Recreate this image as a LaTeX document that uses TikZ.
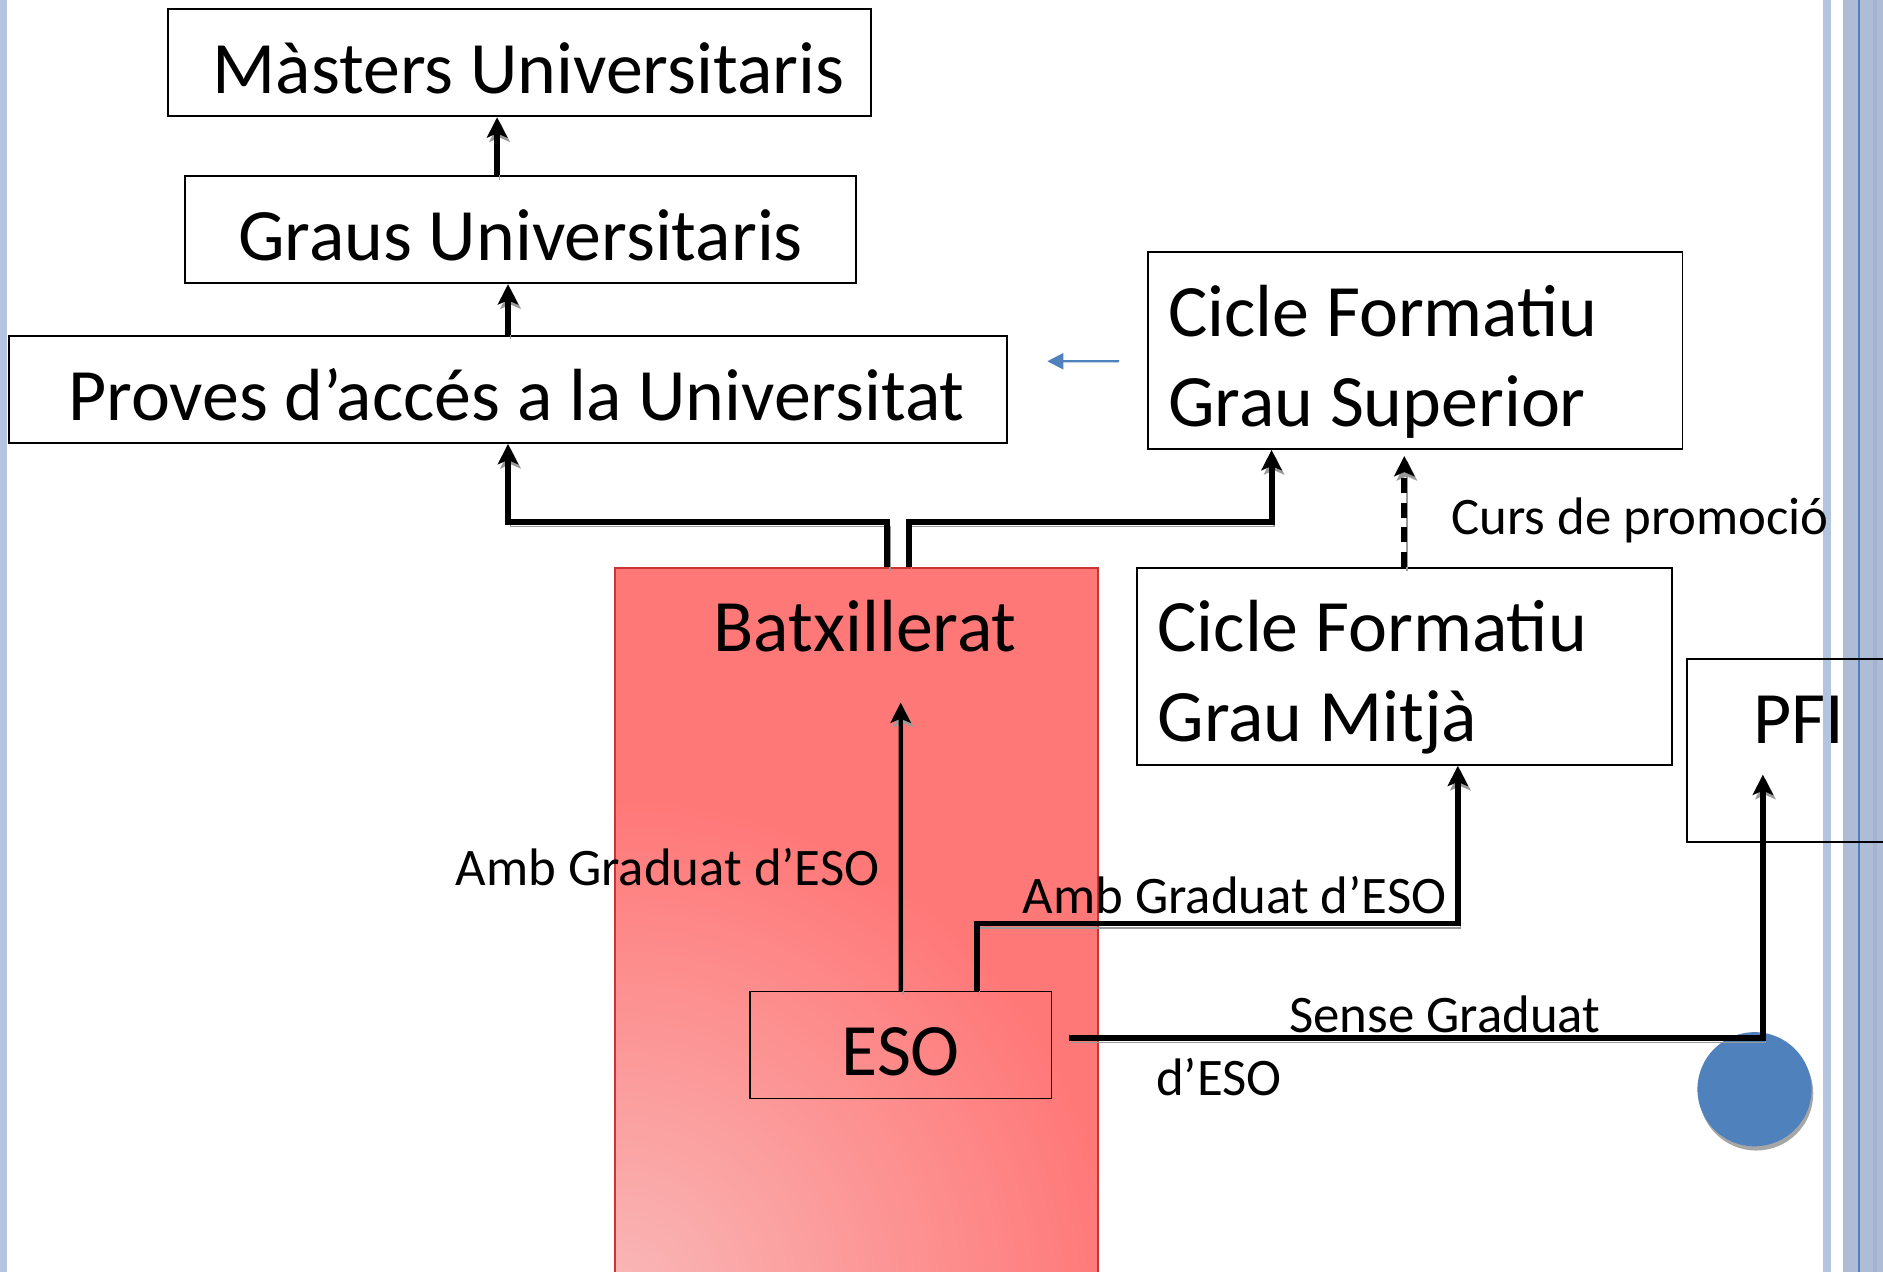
\documentclass[tikz,border=0pt]{standalone}
\usepackage{fontspec}
\setmainfont{Carlito}
\usetikzlibrary{arrows.meta,calc}
\definecolor{stripe}{HTML}{B4C3DE}
\definecolor{stripedark}{HTML}{AFBCD6}
\definecolor{stripedeep}{HTML}{A3B3D0}
\definecolor{accentblue}{HTML}{4F81BD}
\definecolor{batxred}{HTML}{FF7878}
\definecolor{batxpink}{HTML}{F9B8B8}
\definecolor{batxedge}{HTML}{CC3333}
\pgfdeclareradialshading{batxglow}{\pgfpoint{0bp}{0bp}}{color(0bp)=(batxpink); color(13bp)=(batxred); color(50bp)=(batxred)}
\newcommand{\bigtxt}{\fontsize{17.5}{21.3}\selectfont}
\newcommand{\smalltxt}{\fontsize{12.5}{15}\selectfont}
\tikzset{
  box/.style={draw, line width=0.45pt, anchor=north west, inner ysep=0pt, font=\bigtxt, text height=0.7cm},
  centrebox/.style={box, inner xsep=0pt, align=flush center},
  leftbox/.style={box, inner xsep=0.17cm, align=flush left},
  link/.style={line width=1.4pt, -{Stealth[length=4.8pt,width=4.8pt,inset=1pt]},
    preaction={draw=black!40, transform canvas={shift={(0.6pt,-1pt)}}}},
  lbl/.style={font=\smalltxt, inner sep=0pt},
}

\begin{document}
\begin{tikzpicture}[x=0.01cm, y=-0.01cm]
			%%%%% START %%%%%
			\useasboundingbox (0,0) rectangle (1568,1059);
			\clip (0,0) rectangle (1568,1059);
			
			\fill[stripe] (0,0) rectangle (6,1059);
			\fill[stripe] (1518,0) rectangle (1525,1059);
			\fill[stripedark] (1535,0) rectangle (1568,1059);
			\fill[stripedeep] (1560,0) rectangle (1563,1059);
			\fill[accentblue] (1547,0) rectangle (1549,1059);
			
			\node[centrebox, draw=batxedge, fill=batxred, text width=4.02cm, text depth=5.38cm,
			  path picture={\shade[shading=batxglow]
			    ([shift={(-8cm,-8cm)}]path picture bounding box.south west) rectangle ([shift={(8cm,8cm)}]path picture bounding box.south west);}] (batx) at (511,472) {\hspace*{0.15cm}Batxillerat};
			\node[centrebox, line width=0.3pt, text width=2.51cm, text depth=0.19cm] (eso) at (624,825) {ESO};
			
			\node[centrebox, text width=5.85cm, text depth=0.19cm] (masters) at (139,7) {\hspace*{0.15cm}Màsters Universitaris};
			\node[centrebox, text width=5.59cm, text depth=0.19cm] (graus) at (153,146) {Graus Universitaris};
			\node[centrebox, text width=8.30cm, text depth=0.19cm] (proves) at (7,279) {\hspace*{0.14cm}Proves d’accés a la Universitat};
			\node[leftbox, text width=4.11cm, text depth=0.94cm] (cfgs) at (955,209) {Cicle Formatiu\\Grau Superior};
			\node[leftbox, text width=4.11cm, text depth=0.94cm] (cfgm) at (946,472) {Cicle Formatiu\\Grau Mitjà};
			\node[centrebox, text width=1.86cm, text depth=0.82cm] (pfi) at (1404,548) {PFI};
			
			\node[circle, fill=accentblue, minimum size=0.95cm, inner sep=0pt,
			  preaction={fill=black!35, transform canvas={shift={(0.4pt,-1pt)}}}] (dot) at (1461,907) {};
			
			\coordinate (split) at (747,435);
			\coordinate (batxin) at (750,585);
			\coordinate (cfgmlink) at (1013,769);
			\coordinate (pfiin) at (1468,645);
			\coordinate (cfgsfoot) at ([xshift=-1.195cm]cfgs.south);
			\coordinate (cfgmfoot) at ([xshift=0.445cm]cfgm.south);
			
			\draw[link] ([xshift=-0.195cm]graus.north) -- ([xshift=-0.195cm]graus.north |- masters.south);
			\draw[link] (proves.north) -- (proves.north |- graus.south);
			\draw[link] ([xshift=0.26cm]batx.north) |- (split -| proves.south) -- (proves.south);
			\draw[link] ([xshift=0.44cm]batx.north) |- (split -| cfgsfoot) -- (cfgsfoot);
			\draw[link, dash pattern=on 3.6pt off 2.2pt] (cfgm.north) -- ([yshift=-0.05cm]cfgm.north |- cfgs.south);
			\draw[link, line width=1pt] (eso.north) -- (batxin);
			\draw[link] ([xshift=0.635cm]eso.north) |- (cfgmlink -| cfgmfoot) -- (cfgmfoot);
			\draw[link] ([xshift=0.14cm,yshift=0.055cm]eso.east) -| (pfiin);
			
			\draw[line width=0.5pt, accentblue, -{Triangle[length=3.8pt,width=3.8pt]}] ([xshift=-0.23cm,yshift=-0.09cm]cfgs.west) -- ([xshift=0.33cm,yshift=0.235cm]proves.east);
			
			\node[lbl, anchor=base east] (ambbatx) at (733,737) {Amb Graduat d’ESO};
			\node[lbl, anchor=base west] (ambcfgm) at (851,761) {Amb Graduat d’ESO};
			\node[lbl, anchor=base west] (sense) at (1073,860) {Sense Graduat};
			\node[lbl, anchor=base west] (senseeso) at (962,912) {d’ESO};
			\node[lbl, anchor=base west] (promo) at (1208,445) {Curs de promoció};
			
			%%%%% END %%%%%
\end{tikzpicture}
\end{document}
